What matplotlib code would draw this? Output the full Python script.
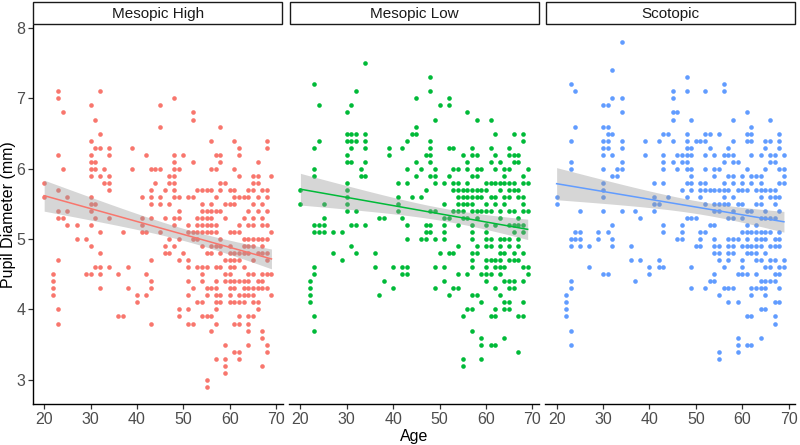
import numpy as np
import matplotlib.pyplot as plt
from matplotlib.patches import Rectangle

plt.rcParams['font.family'] = ['Liberation Sans', 'DejaVu Sans']

panels = ['Mesopic High', 'Mesopic Low', 'Scotopic']
colours = ['#F8766D', '#00BA38', '#619CFF']

# pupil diameter (mm), grouped by age
mesopic_high = {
    20: [5.8, 5.6], 22: [4.5, 4.4, 4.3, 4.2],
    23: [7.1, 7.0, 6.2, 5.7, 5.4, 5.3, 4.7, 4.0, 3.8],
    24: [6.8, 6.0, 5.3], 25: [5.6, 5.4, 5.2], 27: [5.2, 5.0], 29: [5.0, 4.5],
    30: [6.9, 6.4, 6.2, 6.1, 6.0, 5.9, 5.6, 5.5, 5.4, 5.2, 4.9, 4.5],
    31: [6.7, 6.3, 6.1, 6.0, 5.5, 5.3, 4.6],
    32: [7.1, 6.5, 6.3, 5.9, 5.1, 4.8, 4.6, 4.5, 4.3],
    33: [6.0, 5.8], 34: [6.3, 6.2, 5.9, 5.8, 5.7, 5.3, 4.6],
    36: [4.5, 3.9], 37: [5.1, 3.9], 38: [4.6, 4.3], 39: [6.3, 6.0], 40: [4.2, 4.1],
    41: [5.6, 5.3, 5.2, 5.1], 42: [6.2, 5.1, 4.5, 4.2],
    43: [6.0, 5.7, 5.6, 5.5, 5.3, 4.7, 4.4, 4.3, 3.8], 44: [6.0, 5.8],
    45: [6.9, 6.6, 6.0, 5.6, 5.5, 5.1], 46: [5.7, 5.3, 4.9, 4.8],
    47: [5.9, 5.8, 5.5, 5.0, 4.8],
    48: [7.0, 6.2, 6.1, 6.0, 5.9, 5.8, 5.7, 5.6, 5.3, 5.2, 4.9],
    49: [6.0, 5.6, 5.4, 5.3, 5.0, 4.7, 4.0, 3.9], 50: [6.2, 4.8],
    51: [5.6, 5.2, 5.1, 4.7, 4.6, 4.4, 4.2, 4.0, 3.8],
    52: [6.8, 6.7, 6.1, 5.6, 5.1, 5.0, 4.3, 3.8],
    53: [5.7, 5.3, 5.2, 5.1, 5.0, 4.6, 4.1],
    54: [5.7, 5.5, 5.4, 5.3, 5.2, 5.1, 4.9, 4.6, 4.5, 4.4, 4.1, 3.9],
    55: [5.7, 5.4, 5.3, 5.2, 5.1, 4.8, 4.6, 4.3, 4.2, 3.9, 3.0, 2.9],
    56: [6.4, 6.0, 5.7, 5.5, 5.4, 5.3, 5.2, 5.1, 4.9, 4.8, 4.3, 3.9, 3.7],
    57: [6.2, 6.0, 5.6, 5.4, 5.2, 5.1, 4.9, 4.6, 4.4, 4.3, 4.2, 4.1, 4.0, 3.8, 3.3],
    58: [6.6, 6.2, 6.1, 5.8, 5.7, 5.4, 5.0, 4.9, 4.8, 4.6, 4.2, 4.1],
    59: [5.8, 5.5, 5.3, 4.7, 4.5, 4.4, 3.5, 3.3, 3.2, 3.1],
    60: [5.7, 5.5, 5.1, 4.9, 4.8, 4.7, 4.6, 4.5, 4.4, 4.3, 4.2, 4.1],
    61: [6.4, 6.0, 5.7, 5.6, 5.5, 5.1, 4.8, 4.7, 4.6, 4.4, 4.3, 4.1, 3.8, 3.4],
    62: [6.3, 6.2, 5.9, 5.6, 5.2, 5.1, 4.8, 4.7, 4.4, 4.2, 4.1, 3.9, 3.8, 3.4, 3.3],
    63: [5.6, 5.3, 5.0, 4.9, 4.8, 4.6, 4.4, 4.3, 4.2, 4.1],
    64: [5.7, 5.6, 5.4, 5.2, 5.0, 4.9, 4.8, 4.5, 4.4, 4.3, 4.2, 3.9, 3.8, 3.7, 3.5],
    65: [5.9, 5.8, 5.7, 5.5, 5.3, 5.2, 5.0, 4.9, 4.7, 4.5, 4.3, 4.2, 4.1, 3.9],
    66: [6.1, 5.9, 5.8, 5.6, 5.4, 5.0, 4.8, 4.4, 4.3, 4.1, 4.0],
    67: [5.7, 5.5, 5.3, 5.2, 5.0, 4.9, 4.8, 4.5, 4.4, 4.3, 3.7, 3.6, 3.2],
    68: [6.4, 6.3, 5.7, 5.6, 5.4, 5.2, 5.0, 4.8, 4.7, 4.5, 4.3, 3.5, 3.4],
    69: [5.9, 5.1, 4.5, 4.2],
}

mesopic_low = {
    20: [5.7, 5.5], 22: [4.4, 4.3, 4.2, 4.1],
    23: [7.2, 6.3, 6.0, 5.9, 5.2, 5.1, 4.6, 4.5, 3.9, 3.7],
    24: [6.9, 6.4, 5.2, 5.1], 25: [5.5, 5.3, 5.2, 5.1], 27: [5.1, 4.8], 29: [5.1, 4.7],
    30: [6.8, 6.5, 6.4, 6.2, 6.1, 5.8, 5.7, 5.6, 5.5, 5.4],
    31: [6.9, 6.5, 6.4, 6.3, 6.1, 5.2, 4.9],
    32: [7.1, 6.5, 6.4, 5.4, 5.2, 4.8], 33: [6.0, 5.9],
    34: [7.5, 6.5, 6.4, 6.3, 6.1, 5.9, 5.2],
    36: [4.8, 4.6], 37: [5.3, 4.2], 38: [5.3, 4.4], 39: [6.3, 6.2], 40: [4.6, 4.3],
    41: [5.8, 5.6, 5.5, 5.4], 42: [6.3, 5.3, 4.6, 4.5],
    43: [6.4, 6.0, 5.8, 5.2, 5.0, 4.6, 4.5], 44: [6.5, 5.6],
    45: [7.0, 6.6, 6.5, 6.1, 5.9], 46: [6.0, 5.6, 5.0],
    47: [6.2, 5.7, 5.2, 5.1, 5.0],
    48: [7.3, 7.1, 6.4, 6.3, 6.2, 6.1, 5.9, 5.4, 5.2, 5.1],
    49: [6.7, 6.0, 5.9, 5.8, 5.4, 5.0, 4.6, 4.3], 50: [6.9, 4.8],
    51: [5.8, 5.5, 5.3, 5.2, 5.1, 5.0, 4.6, 4.4],
    52: [7.0, 6.9, 6.3, 5.9, 5.3, 4.8, 4.2],
    53: [6.3, 6.0, 5.8, 5.7, 5.4, 4.8, 4.3],
    54: [6.0, 5.8, 5.7, 5.6, 5.5, 5.4, 5.2, 4.9, 4.5, 4.3],
    55: [6.2, 5.7, 5.6, 5.5, 5.4, 5.3, 3.9, 3.3, 3.2],
    56: [6.8, 6.1, 6.0, 5.8, 5.7, 5.6, 5.5, 5.3, 4.5, 4.0],
    57: [6.3, 6.2, 5.9, 5.7, 5.6, 5.5, 5.4, 5.2, 5.1, 5.0, 4.8, 4.7, 4.6, 4.2, 4.0, 3.7],
    58: [6.7, 6.2, 6.0, 5.9, 5.7, 5.6, 5.4, 5.3, 4.9, 4.8, 4.2],
    59: [6.0, 5.7, 5.6, 5.4, 4.5, 4.1, 3.6, 3.5, 3.3],
    60: [5.8, 5.7, 5.5, 5.4, 5.2, 5.1, 5.0, 4.9, 4.7, 4.6, 4.5, 4.4],
    61: [6.7, 6.3, 6.1, 5.8, 5.6, 5.4, 5.0, 4.9, 4.7, 4.5, 3.9, 3.5],
    62: [6.5, 6.2, 6.0, 5.8, 5.6, 5.5, 5.2, 4.7, 4.6, 4.3, 4.0, 3.9, 3.5],
    63: [6.1, 5.8, 5.7, 5.4, 5.3, 5.0, 4.9, 4.8, 4.7, 4.6, 4.5, 4.2],
    64: [6.0, 5.9, 5.8, 5.6, 5.5, 5.0, 4.8, 4.6, 4.4, 4.1, 4.0, 3.6],
    65: [6.3, 6.2, 6.0, 5.8, 5.7, 5.6, 5.4, 5.2, 5.0, 4.9, 4.7, 4.4, 4.3, 4.1, 4.0],
    66: [6.5, 6.2, 6.1, 5.8, 5.7, 5.4, 5.2, 5.1, 4.8, 4.7, 4.4, 4.3],
    67: [6.2, 6.1, 5.7, 5.6, 5.3, 5.2, 5.0, 4.9, 4.7, 3.9, 3.4],
    68: [6.5, 6.4, 5.9, 5.8, 5.6, 5.5, 5.4, 5.2, 5.1, 4.8, 4.6, 4.4, 4.1, 3.9],
    69: [6.0, 5.8, 5.4, 4.6, 4.5],
}

scotopic = {
    20: [5.6, 5.5], 22: [4.2, 4.1, 4.0, 3.9],
    23: [7.2, 6.4, 6.1, 6.0, 5.0, 4.9, 4.4, 4.3, 3.7, 3.5],
    24: [7.1, 6.6, 5.1, 5.0], 25: [5.4, 5.1, 5.0, 4.9], 27: [4.9, 4.6], 29: [5.1, 5.0],
    30: [6.9, 6.6, 6.4, 6.3, 6.2, 6.0, 5.8, 5.7, 5.6, 5.4, 4.5],
    31: [6.9, 6.6, 6.5, 6.4, 6.3, 5.1, 4.5],
    32: [7.4, 7.0, 6.5, 6.2, 5.9, 5.2, 5.0, 4.9], 33: [6.0, 5.9],
    34: [7.8, 7.0, 6.8, 6.4, 6.3, 6.1, 6.0, 5.4],
    36: [4.9, 4.7], 37: [5.4, 4.4], 38: [5.3, 4.7], 39: [6.4, 6.2], 40: [4.6, 4.5],
    41: [5.8, 5.6, 5.5, 5.4], 42: [6.4, 5.5, 4.7, 4.6],
    43: [6.5, 6.2, 6.1, 6.0, 5.8, 5.2, 5.1, 4.6], 44: [6.5, 5.6],
    45: [7.1, 7.0, 6.8, 6.7, 6.4, 6.1], 46: [6.8, 6.2, 6.0, 5.0],
    47: [6.2, 6.1, 5.7, 5.2, 5.1, 5.0],
    48: [7.3, 7.1, 6.5, 6.4, 6.3, 6.2, 6.1, 6.0, 5.8, 5.6, 5.3],
    49: [6.7, 6.3, 6.2, 6.0, 5.9, 5.8, 5.7, 5.3, 4.6, 4.3], 50: [6.4, 5.3, 4.9],
    51: [6.4, 5.8, 5.7, 5.6, 5.1, 5.0, 4.9],
    52: [7.1, 6.5, 6.4, 6.2, 6.0, 5.8, 5.7, 5.5, 5.1, 4.3],
    53: [6.5, 6.3, 5.7, 5.2, 4.4],
    54: [6.2, 6.0, 5.9, 5.7, 5.5, 5.4, 5.2, 5.0, 4.9, 4.8, 4.5, 4.4],
    55: [6.5, 6.0, 5.7, 5.5, 5.4, 4.9, 4.8, 4.7, 4.2, 3.4, 3.3],
    56: [7.2, 7.1, 6.2, 6.1, 5.8, 5.7, 5.6, 5.5, 4.6, 4.3],
    57: [6.3, 6.2, 5.9, 5.7, 5.5, 5.3, 5.0, 4.9, 4.8, 4.7, 4.3, 4.1],
    58: [6.7, 6.4, 6.2, 6.1, 5.9, 5.8, 5.6, 5.4, 5.3, 5.0, 4.9, 4.8, 4.3],
    59: [6.1, 5.7, 5.5, 5.0, 4.5, 4.1, 3.6, 3.5, 3.4],
    60: [5.9, 5.8, 5.7, 5.5, 5.3, 5.1, 4.9, 4.7, 4.6, 4.5],
    61: [6.8, 6.5, 6.4, 6.0, 5.7, 5.4, 5.2, 5.1, 5.0, 4.9, 4.8, 4.5, 3.9, 3.5],
    62: [6.6, 6.5, 6.4, 6.2, 5.9, 5.8, 5.4, 5.1, 4.9, 4.8, 4.3, 4.2, 3.9, 3.5],
    63: [5.9, 5.7, 5.5, 5.2, 5.1, 5.0, 4.9, 4.8, 4.7, 4.5, 4.3],
    64: [6.2, 5.9, 5.8, 5.7, 5.6, 5.5, 5.3, 5.1, 5.0, 4.9, 4.7, 4.4, 4.3, 4.0, 3.6],
    65: [6.4, 6.3, 6.0, 5.7, 5.4, 5.3, 5.1, 5.0, 4.8, 4.6, 4.4, 4.3, 4.2, 4.0],
    66: [6.7, 6.4, 6.2, 6.1, 5.7, 5.6, 5.3, 5.1, 4.9, 4.7, 4.6, 4.4],
    67: [6.2, 6.1, 5.7, 5.6, 5.5, 5.3, 5.0, 4.9, 4.7, 4.5, 4.4, 4.1, 3.9, 3.8],
    68: [6.5, 6.4, 6.3, 6.0, 5.8, 5.6, 5.4, 5.1, 5.0, 4.9, 4.6, 4.5, 4.3, 4.1],
    69: [6.2, 6.0, 5.9, 5.8, 4.7, 4.6],
}

datasets = [mesopic_high, mesopic_low, scotopic]
x_ticks = [20, 30, 40, 50, 60, 70]
y_ticks = [3, 4, 5, 6, 7, 8]


def flatten(d):
    ages, vals = [], []
    for a, vs in d.items():
        ages += [a] * len(vs)
        vals += vs
    return np.array(ages, float), np.array(vals, float)


def lm_band(x, y, grid):
    n = len(x)
    b1, b0 = np.polyfit(x, y, 1)
    resid = y - (b0 + b1 * x)
    s = np.sqrt(np.sum(resid ** 2) / (n - 2))
    sxx = np.sum((x - x.mean()) ** 2)
    fit = b0 + b1 * grid
    se = s * np.sqrt(1 / n + (grid - x.mean()) ** 2 / sxx)
    return fit, fit - 1.97 * se, fit + 1.97 * se


fig = plt.figure(figsize=(8, 4.45), dpi=100)
left, width, gap = 0.041, 0.3125, 0.0078
bottom, height = 0.092, 0.852
strip_h = 0.052

for i, (name, col, d) in enumerate(zip(panels, colours, datasets)):
    x0 = left + i * (width + gap)
    ax = fig.add_axes([x0, bottom, width, height])
    ages, vals = flatten(d)
    ax.scatter(ages, vals, s=11, color=col, linewidths=0, zorder=2)
    grid = np.linspace(ages.min(), ages.max(), 80)
    fit, lo, hi = lm_band(ages, vals, grid)
    ax.fill_between(grid, lo, hi, color='#999999', alpha=0.4, linewidth=0, zorder=3)
    ax.plot(grid, fit, color=col, lw=1.1, zorder=4)

    ax.set_xlim(17.55, 71.45)
    ax.set_ylim(2.655, 8.045)
    ax.set_xticks(x_ticks)
    ax.set_yticks(y_ticks)
    for sp in ['top', 'right']:
        ax.spines[sp].set_visible(False)
    ax.spines['bottom'].set_linewidth(1.0)
    ax.spines['left'].set_linewidth(1.0)
    ax.tick_params(length=3.5, width=0.9, color='#333333',
                   labelsize=11.5, labelcolor='#4D4D4D', pad=2)
    if i > 0:
        ax.spines['left'].set_visible(False)
        ax.tick_params(axis='y', left=False, labelleft=False)

    # facet strip
    sax = fig.add_axes([x0, bottom + height, width, strip_h])
    sax.set_xlim(0, 1)
    sax.set_ylim(0, 1)
    sax.axis('off')
    sax.add_patch(Rectangle((0.002, 0.03), 0.996, 0.94, facecolor='white',
                            edgecolor='#1A1A1A', lw=1.0, clip_on=False))
    sax.text(0.5, 0.48, name, ha='center', va='center', fontsize=11, color='#1A1A1A')

fig.text(0.011, bottom + height / 2, 'Pupil Diameter (mm)', rotation=90,
         ha='center', va='center', fontsize=11.5)
fig.text(left + 1.5 * width + gap, 0.018, 'Age', ha='center', va='center', fontsize=11.5)

fig.savefig('out.png', dpi=100)
